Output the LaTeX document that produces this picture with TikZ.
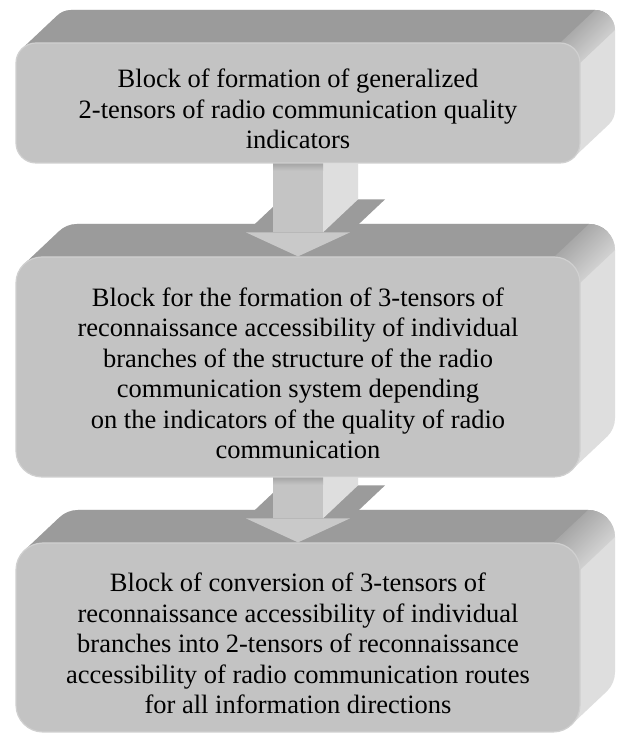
\documentclass[tikz,border=0pt]{standalone}
\usepackage{fontspec}
\setmainfont{Liberation Serif}
\newfontfamily\blockfont{Liberation Serif}
\usetikzlibrary{calc}
\pgfdeclarelayer{back}
\pgfdeclarelayer{mid}
\pgfsetlayers{back,mid,main}

\definecolor{facecol}{HTML}{C3C3C3}
\definecolor{topcol}{HTML}{9B9B9B}
\definecolor{sidecol}{HTML}{DEDEDE}
\definecolor{rimcol}{HTML}{D0D0D0}
\definecolor{shaftcol}{HTML}{C4C4C4}
\definecolor{headcol}{HTML}{C9C9C9}
\definecolor{shadecol}{HTML}{A6A6A6}

\def\ox{35}
\def\oy{33}
\newcommand{\firststrut}{\rule{0pt}{31pt}}

% #1 left x, #2 top y, #3 right x, #4 bottom y, #5 corner radius
\newcommand{\extrude}[5]{%
  \pgfmathsetmacro{\kk}{0.2929*#5}%
  \fill[sidecol] ({#1+\kk},{#2-\kk}) -- ({#1+\kk+\ox},{#2-\kk+\oy})
    arc[start angle=135,end angle=90,radius=#5] -- ({#3+\ox-#5},{#2+\oy})
    arc[start angle=90,end angle=0,radius=#5] -- ({#3+\ox},{#4+\oy+#5})
    arc[start angle=0,end angle=-45,radius=#5] -- ({#3-\kk},{#4+\kk})
    arc[start angle=-45,end angle=-90,radius=#5] -- ({#1+#5},{#4})
    arc[start angle=-90,end angle=-180,radius=#5] -- ({#1},{#2-#5})
    arc[start angle=180,end angle=135,radius=#5] -- cycle;
  \fill[topcol] ({#1+\kk},{#2-\kk}) -- ({#1+\kk+\ox},{#2-\kk+\oy})
    arc[start angle=135,end angle=90,radius=#5] -- ({#3+\ox-#5},{#2+\oy})
    arc[start angle=90,end angle=45,radius=#5] -- ({#3-\kk},{#2-\kk})
    arc[start angle=45,end angle=90,radius=#5] -- ({#1+#5},{#2})
    arc[start angle=90,end angle=135,radius=#5] -- cycle;
  \shade[top color=topcol, bottom color=sidecol, shading angle=45]
    ({#3-#5},{#2}) -- ({#3-#5+\ox},{#2+\oy})
    arc[start angle=90,end angle=0,radius=#5] -- ({#3},{#2-#5})
    arc[start angle=0,end angle=90,radius=#5] -- cycle;
}

% #1 top of shaft (coordinate), #2 tip (coordinate)
\newcommand{\threedarrow}[2]{%
  \fill[topcol] ($(#2)+(-52,24)$) -- ($(#2)+(-52+\ox,24+\oy)$)
    -- ($(#2)+(52+\ox,24+\oy)$) -- ($(#2)+(52,24)$) -- cycle;
  \fill[sidecol] ($(#2)+(25,24)$) -- ($(#2)+(25+\ox,24+\oy)$)
    -- ($(#1)+(25+\ox,0)$) -- ($(#1)+(25,0)$) -- cycle;
  \fill[shaftcol] ($(#1)+(-25,0)$) rectangle ($(#2)+(25,24)$);
  \shade[top color=shadecol, bottom color=shaftcol] ($(#1)+(-25,0)$) rectangle ($(#1)+(25,-7)$);
  \fill[headcol] ($(#2)+(-52,24)$) -- ($(#2)+(52,24)$) -- (#2) -- cycle;
}

\begin{document}
\begin{tikzpicture}[x=1pt,y=1pt,
  blockface/.style={fill=facecol, draw=rimcol, line width=1.2pt, inner sep=0pt,
    align=center, text=black, minimum width=564pt,
    font=\blockfont\fontsize{26.5}{30.5}\selectfont}]
\useasboundingbox (0,0) rectangle (616,733);

\node[blockface, minimum height=120pt, rounded corners=20pt] (b1) at (298,630)
  {\firststrut Block of formation of generalized\\2-tensors of radio communication quality\\indicators};
\node[blockface, minimum height=220pt, rounded corners=26pt] (b2) at (298,366)
  {\firststrut Block for the formation of 3-tensors of\\reconnaissance accessibility of individual\\branches of the structure of the radio\\communication system depending\\on the indicators of the quality of radio\\communication};
\node[blockface, minimum height=189pt, rounded corners=27pt] (b3) at (298,95.5)
  {\firststrut Block of conversion of 3-tensors of\\reconnaissance accessibility of individual\\branches into 2-tensors of reconnaissance\\accessibility of radio communication routes\\for all information directions};

\begin{pgfonlayer}{back}
  \fill[white] (0,0) rectangle (616,733);
  \extrude{16}{690}{580}{570}{20}
  \extrude{16}{476}{580}{256}{26}
  \extrude{16}{190}{580}{1}{27}
\end{pgfonlayer}

\begin{pgfonlayer}{mid}
  \threedarrow{b1.south}{b2.north}
  \threedarrow{b2.south}{b3.north}
\end{pgfonlayer}
\end{tikzpicture}
\end{document}
